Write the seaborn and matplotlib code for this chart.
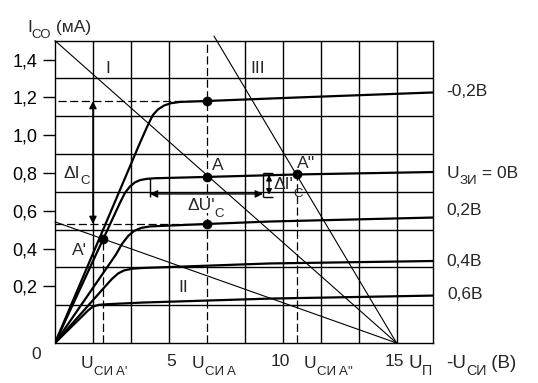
import numpy as np
import pandas as pd
import matplotlib
matplotlib.use("Agg")
import matplotlib.pyplot as plt
import seaborn as sns

# ---------------- data ----------------
# output characteristics, -U_SI (V) vs I_SO (mA, in the chart's labelled scale)
U_m02 = [0, 3.73, 4.08, 4.30, 4.52, 4.79, 5.09, 5.49, 6.68, 10.76, 16.6]
I_m02 = [-0.1, 0.959, 1.054, 1.107, 1.136, 1.157, 1.169, 1.176, 1.181, 1.200, 1.226]

U_0 = [0, 2.85, 3.07, 3.29, 3.51, 3.73, 4.04, 4.39, 6.68, 10.63, 16.6]
I_0 = [-0.1, 0.641, 0.694, 0.728, 0.750, 0.762, 0.769, 0.772, 0.779, 0.792, 0.805]

U_02 = [0, 2.68, 2.94, 3.21, 3.47, 3.78, 4.17, 6.68, 9.44, 16.6]
I_02 = [-0.1, 0.369, 0.424, 0.466, 0.493, 0.509, 0.517, 0.530, 0.543, 0.564]

U_04 = [0, 2.20, 2.50, 2.77, 3.03, 3.38, 3.82, 9.44, 16.6]
I_04 = [-0.1, 0.199, 0.239, 0.268, 0.284, 0.293, 0.297, 0.321, 0.334]

U_06 = [0, 1.45, 1.67, 1.93, 2.42, 3.82, 9.44, 16.6]
I_06 = [-0.1, 0.072, 0.093, 0.102, 0.106, 0.114, 0.135, 0.151]

curve_names = ["-0,2В", "0В", "0,2В", "0,4В", "0,6В"]

# load lines I, II, III
load_I_U = [0, 15];    load_I_I = [1.5, -0.1]
load_II_U = [0, 15];   load_II_I = [0.541, -0.1]
load_III_U = [6.98, 15]; load_III_I = [1.525, -0.1]

# marked points: top, A, bottom, A', A''
pts_U = [6.68, 6.68, 6.68, 2.12, 10.63]
pts_I = [1.181, 0.779, 0.530, 0.45, 0.792]

# increments
dU_left, dU_right, dU_level = 4.17, 9.13, 0.689
dI_top, dI_bottom = 0.802, 0.673

y_ticks = [0.2, 0.4, 0.6, 0.8, 1.0, 1.2, 1.4]
y_ticklabels = ["0,2", "0,4", "0,6", "0,8", "1,0", "1,2", "1,4"]
X_MIN, X_MAX, Y_MIN, Y_MAX = 0, 16.6, -0.1, 1.5

# ---------------- style ----------------
sns.set_style("ticks")
plt.rcParams["font.family"] = ["Liberation Sans", "DejaVu Sans"]

W, H = 538, 383
fig = plt.figure(figsize=(W / 100, H / 100), dpi=100)
ax = fig.add_axes([55 / W, (H - 343) / H, 378 / W, 302.3 / H])
ax.set_xlim(X_MIN, X_MAX)
ax.set_ylim(Y_MIN, Y_MAX)

# grid (cells of 5/3 V x 0.2 mA), the column at U_A is replaced by the dashed line
grid_x = [k * 5 / 3 for k in range(1, 10) if k != 4]
grid_y = np.arange(0.1, 1.45, 0.2)
for gx in grid_x:
    ax.axvline(gx, color="black", lw=1.0, zorder=1)
for gy in grid_y:
    ax.axhline(gy, color="black", lw=1.0, zorder=1)

# characteristic curves
frames = []
for name, u, i in zip(curve_names, [U_m02, U_0, U_02, U_04, U_06],
                      [I_m02, I_0, I_02, I_04, I_06]):
    frames.append(pd.DataFrame({"U": u, "I": i, "curve": name}))
df = pd.concat(frames, ignore_index=True)
sns.lineplot(data=df, x="U", y="I", units="curve", estimator=None, sort=False,
             color="black", lw=1.6, ax=ax, legend=False, zorder=3)

# load lines
load_df = pd.concat([
    pd.DataFrame({"U": load_I_U, "I": load_I_I, "line": "I"}),
    pd.DataFrame({"U": load_II_U, "I": load_II_I, "line": "II"}),
    pd.DataFrame({"U": load_III_U, "I": load_III_I, "line": "III"}),
], ignore_index=True)
n_before = len(ax.lines)
sns.lineplot(data=load_df, x="U", y="I", units="line", estimator=None, sort=False,
             color="black", lw=0.8, ax=ax, legend=False, zorder=2)
for ln in ax.lines[n_before:]:
    ln.set_clip_on(False)

# dashed guide lines
dash = dict(color="black", lw=0.9, linestyles=(0, (6.5, 2.8)), zorder=2)
ax.vlines(pts_U[1], Y_MIN, Y_MAX, **dash)
ax.vlines(pts_U[3], Y_MIN, pts_I[3], **dash)
ax.vlines(pts_U[4], Y_MIN, pts_I[4], **dash)
ax.hlines(pts_I[0], 0.13, pts_U[0], **dash)
ax.hlines(pts_I[2], X_MIN, pts_U[2], **dash)

# points
sns.scatterplot(x=pts_U, y=pts_I, color="black", s=42, edgecolor="black",
                ax=ax, zorder=6, legend=False)

# delta I_C arrow
arr = dict(arrowstyle="<|-|>", color="black", lw=1.0, mutation_scale=11,
           shrinkA=0, shrinkB=0)
ax.annotate("", xy=(5 / 3, pts_I[0]), xytext=(5 / 3, pts_I[2]), arrowprops=arr)
# delta U'_C construction
ax.vlines(dU_left, dI_bottom, 0.775, color="black", lw=1.0, zorder=3)
ax.vlines(dU_right, dI_bottom, dI_top, color="black", lw=1.0, zorder=3)
ax.hlines([dI_top, dI_bottom], dU_right, dU_right + 0.45, color="black", lw=1.0, zorder=3)
ax.annotate("", xy=(dU_left, dU_level), xytext=(dU_right, dU_level), arrowprops=arr)
ax.annotate("", xy=(dU_right + 0.27, dI_top - 0.012), xytext=(dU_right + 0.27, dI_bottom + 0.012),
            arrowprops=dict(arr, mutation_scale=8))

# axes styling
ax.set_xticks([])
ax.set_yticks(y_ticks)
ax.set_yticklabels(y_ticklabels)
ax.tick_params(axis="y", length=8.5, width=1.0, pad=4, labelsize=13, colors="black",
               direction="out")
for sp in ax.spines.values():
    sp.set_visible(True)
    sp.set_color("black")
    sp.set_linewidth(1.0)
ax.set_xlabel("")
ax.set_ylabel("")

# ---------------- text ----------------
fig.canvas.draw()
rend = fig.canvas.get_renderer()


def runs(xp, yp, segs, size=12.5, drop=6.5, bg=False, ratio=0.76):
    x = xp
    for text, sub in segs:
        fs = size * ratio if sub else size
        yy = yp + (drop if sub else 0)
        kw = {}
        if bg:
            kw["bbox"] = dict(facecolor="white", edgecolor="none", pad=0.3)
        t = fig.text(x / W, 1 - yy / H, text, fontsize=fs, ha="left", va="baseline", **kw)
        bb = t.get_window_extent(renderer=rend)
        x = bb.x1
    return x


def ctext(xp, yp, text, size=12.5):
    fig.text(xp / W, 1 - yp / H, text, fontsize=size, ha="center", va="baseline")


# axis titles
runs(27, 32, [("I", False), ("СО", True), (" (мА)", False)], size=12.5, drop=6)
ctext(36, 359, "0")
runs(81, 368, [("U", False), ("СИ A'", True)], drop=7)
ctext(171, 366, "5")
runs(192, 368, [("U", False), ("СИ A", True)], drop=7)
ctext(280, 366, "10")
runs(304, 368, [("U", False), ("СИ A''", True)], drop=7)
ctext(394, 366, "15")
runs(408, 368, [("U", False), ("П", True)], size=13.5, drop=7)
runs(446, 368, [("-U", False), ("СИ", True), (" (В)", False)], size=13.5, drop=7)

# curve labels
runs(446, 96, [("-0,2В", False)])
runs(447, 177.5, [("U", False), ("ЗИ", True), (" = 0В", False)], drop=6)
runs(446, 215, [("0,2В", False)])
runs(446, 265.5, [("0,4В", False)])
runs(447, 299, [("0,6В", False)])

# load line labels
ctext(108, 73, "I")
ctext(258, 73, "III")
ctext(183, 292, "II")

# point labels
runs(212, 170, [("A", False)])
runs(297, 168, [("A''", False)])
runs(72, 255, [("A'", False)])

# increments
runs(64, 178, [("ΔI", False), ("C", True)], drop=6)
runs(187, 210, [("ΔU'", False), ("C", True)], drop=7, bg=True)
runs(273, 189, [("ΔI'", False), ("C", True)], drop=8)

fig.savefig("out.png", dpi=100)
